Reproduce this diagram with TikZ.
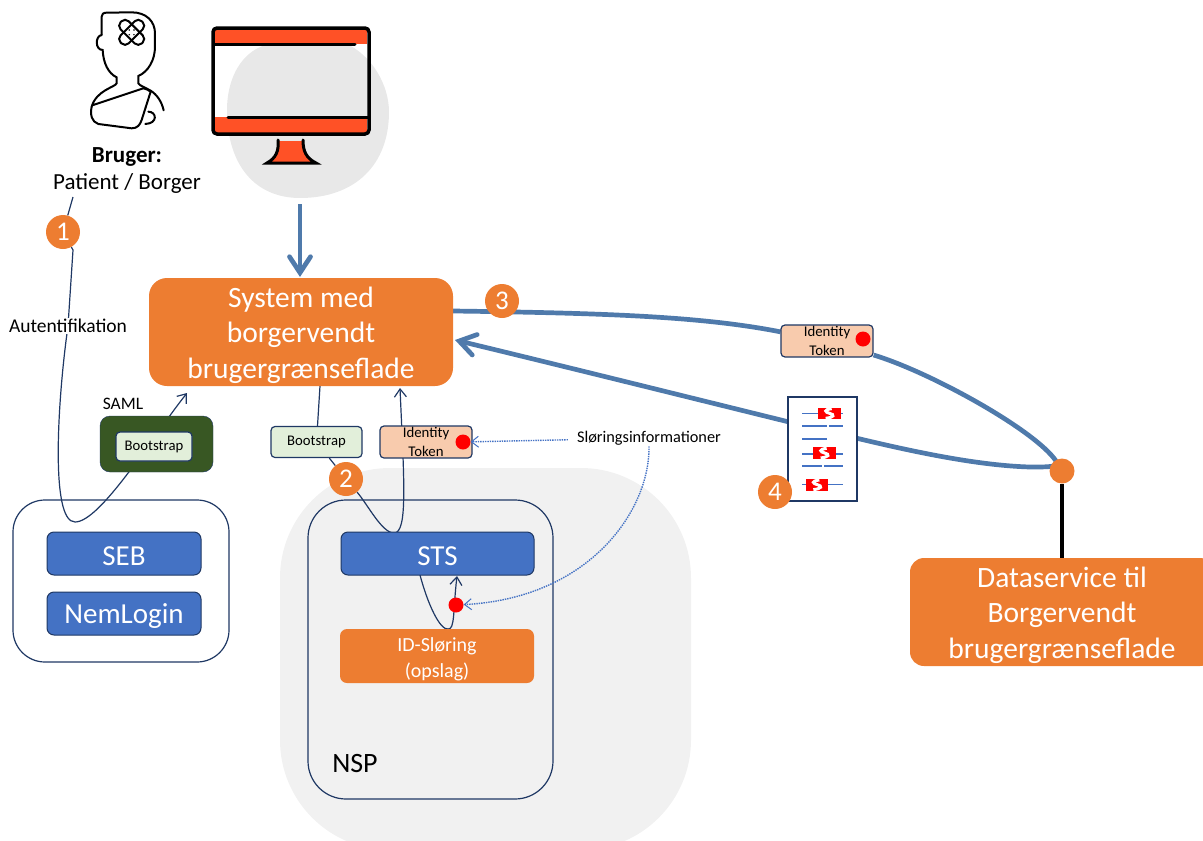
\documentclass[tikz,border=0pt]{standalone}
\usepackage{fontspec}
\setmainfont{Carlito}
\usetikzlibrary{arrows.meta, positioning, backgrounds}
\definecolor{navy}{HTML}{1F3864}
\definecolor{steel}{HTML}{4F7AAB}
\definecolor{sysorange}{HTML}{ED7D31}
\definecolor{sysblue}{HTML}{4472C4}
\definecolor{samlgreen}{HTML}{385723}
\definecolor{paleGreen}{HTML}{E2EFDA}
\definecolor{tokenfill}{HTML}{F8CBAD}
\definecolor{iconred}{HTML}{FF5126}
\tikzstyle{system} = [rectangle, rounded corners=18pt, minimum width=304pt, minimum height=108pt, inner sep=0pt, align=center, fill=sysorange, text=white, font=\fontsize{29.5}{35.5}\selectfont]
\tikzstyle{service} = [rectangle, rounded corners=7pt, minimum width=154pt, minimum height=43pt, inner sep=0pt, align=center, draw=navy, line width=1pt, fill=sysblue, text=white, font=\fontsize{29}{30}\selectfont]
\tikzstyle{lookup} = [rectangle, rounded corners=7pt, minimum width=194pt, minimum height=54pt, inner sep=0pt, align=center, fill=sysorange, text=white, font=\fontsize{20}{26}\selectfont]
\tikzstyle{group} = [rectangle, draw=navy, line width=1.2pt, inner sep=0pt]
\tikzstyle{bootstrap} = [rectangle, rounded corners=4pt, inner sep=0pt, draw=navy, line width=1.2pt, fill=paleGreen, font=\fontsize{14.7}{16}\selectfont]
\tikzstyle{token} = [rectangle, rounded corners=4pt, minimum width=92pt, minimum height=32pt, inner sep=0pt, align=center, draw=navy, line width=1.2pt, fill=tokenfill, font=\fontsize{14.8}{18.5}\selectfont]
\tikzstyle{badge} = [circle, minimum size=34pt, inner sep=0pt, fill=sysorange, text=white, font=\fontsize{27}{27}\selectfont]
\tikzstyle{dot} = [circle, minimum size=15pt, inner sep=0pt, fill=red]
\tikzstyle{label} = [inner sep=1pt, align=center]
\tikzstyle{arrow} = [line width=1.2pt, draw=navy, -{Straight Barb[length=8pt,width=12pt]}]
\tikzstyle{flow} = [line width=4.7pt, draw=steel]
\tikzstyle{flowtip} = [-{Straight Barb[length=16pt,width=21pt,line cap=round]}]
\tikzstyle{hint} = [line width=1.4pt, draw=sysblue, densely dotted, -{Straight Barb[length=7pt,width=11pt,line width=1pt]}]
\tikzstyle{docline} = [line width=1.6pt, draw=sysblue]
\newcommand{\dropline}{\rule{0pt}{27pt}}
\newcommand{\dropservice}{\rule{0pt}{24pt}}

\begin{document}
\begin{tikzpicture}[x=1pt, y=-1pt]
\useasboundingbox (0,0) rectangle (1203,841);

% monitor
\fill[iconred] (215,30) rectangle (367,44);
\fill[iconred] (215,117) rectangle (367,133);
\fill[iconred] (279,141) -- (302,141) .. controls (303,152) and (306,158) .. (314,162) -- (268,162) .. controls (275,158) and (278,152) .. (279,141) -- cycle;
\draw[black, line width=3.5pt, rounded corners=4pt] (213,28) rectangle (369,134);
\draw[black, line width=3pt, line cap=round] (215,44) -- (355,44);
\draw[black, line width=3pt, line cap=round] (228,117) -- (368,117);
\draw[black, line width=3pt, line cap=round] (278,140) .. controls (279,151) and (276,158) .. (267,163) -- (316,163) .. controls (306,158) and (303,151) .. (303,140);

% patient
\begin{scope}[shift={(60,0)}, x=0.3333pt, y=-0.3333pt, black, line width=2pt, line cap=round]
\draw (125,105) -- (125,50) .. controls (125,42) and (130,38) .. (140,38) -- (215,37) .. controls (260,37) and (285,65) .. (285,100) -- (285,140) .. controls (285,180) and (265,215) .. (235,228) -- (235,250) .. controls (240,258) and (255,262) .. (272,272) .. controls (292,285) and (305,305) .. (311,331);
\draw (125,105) .. controls (105,108) and (105,150) .. (128,150) .. controls (130,190) and (145,220) .. (170,232) -- (170,250) .. controls (165,262) and (110,270) .. (95,320) .. controls (90,345) and (95,365) .. (115,372) -- (215,385) .. controls (232,385) and (240,375) .. (245,360) -- (272,275) .. controls (265,270) and (258,266) .. (250,265) -- (97,316);
\draw (265,335) .. controls (290,335) and (295,370) .. (256,372);
\draw[rounded corners=5pt, rotate around={45:(215,97)}] (170,80) rectangle (260,114);
\draw[rounded corners=5pt, rotate around={-45:(215,97)}] (170,80) rectangle (260,114);
\fill (208,90) circle (2.5) (222,90) circle (2.5) (208,104) circle (2.5) (222,104) circle (2.5);
\end{scope}

\node (user) [label, font=\fontsize{23}{27}\selectfont] at (127,171) {\textbf{Bruger:}\\Patient / Borger};
\node (system) [system] at (301,332) {\dropline System med\\borgervendt\\brugergrænseflade};
\node (auth) [label, fill=white, font=\fontsize{19.5}{22}\selectfont] at (68,326) {Autentifikation};

\node (loginbox) [group, rounded corners=32pt, minimum width=216pt, minimum height=162pt] at (121,581) {};
\node (seb) [service] at (124,553.5) {\dropservice SEB};
\node (nemlogin) [service, below=16pt of seb] {\dropservice NemLogin};
\node (nspbox) [group, rounded corners=38pt, minimum width=245pt, minimum height=299pt] at (430.5,649.5) {};
\node (sts) [service, minimum width=193pt] at (437.5,553.5) {\dropservice STS};
\node (idlookup) [lookup] at (437,656) {\rule{0pt}{20pt}ID-Sløring\\(opslag)};
\node (nsp) [label, font=\fontsize{28}{30}\selectfont] at (355,764) {NSP};

\node (samlbox) [rectangle, rounded corners=10pt, minimum width=113pt, minimum height=56pt, inner sep=0pt, draw=navy, fill=samlgreen] at (156.5,444) {};
\node (samlboot) [bootstrap, minimum width=76pt, minimum height=29pt] at (154,446.5) {Bootstrap};
\node (saml) [label, font=\fontsize{17.5}{20}\selectfont] at (123,404) {SAML};
\node (boot) [bootstrap, minimum width=91pt, minimum height=31pt] at (316.5,442) {Bootstrap};
\node (idtoken) [token] at (426,442) {Identity\\Token};
\node (iddot) [dot] at (463,442) {};
\node (sloring) [label, inner xsep=9pt, font=\fontsize{16.3}{19}\selectfont] at (649,438) {Sløringsinformationer};
\node (lookupdot) [dot] at (456,605) {};

\node (dstoken) [token] at (827,341) {Identity\\Token};
\node (dsdot) [dot] at (863,339) {};
\node (doc) [rectangle, minimum width=69pt, minimum height=104pt, inner sep=0pt, draw=navy, line width=1.2pt, fill=white] at (822.5,449) {};

% sloring list
\begin{scope}[shift={(740,310)}, x=0.3333pt, y=-0.3333pt]
\draw[docline] (187,311) -- (308,311);
\draw[docline] (187,348) -- (260,348) (267,348) -- (308,348);
\draw[docline] (187,387) -- (260,387);
\draw[docline] (187,432) -- (308,432);
\draw[docline] (187,468) -- (245,468) (252,468) -- (308,468);
\draw[docline] (187,523) -- (308,523);
\foreach \sx/\sy in {235/293, 220/412, 198/507} {
  \fill[red] (\sx,\sy) rectangle ++(67,35);
  \draw[white, line width=3pt] (\sx+40,\sy+3) .. controls (\sx+15,\sy+6) and (\sx+20,\sy+14) .. (\sx+34,\sy+17) .. controls (\sx+50,\sy+21) and (\sx+48,\sy+29) .. (\sx+22,\sy+32);
}
\end{scope}

\node (dsjoin) [circle, minimum size=25pt, inner sep=0pt, fill=sysorange] at (1062,471) {};
\node (dataservice) [system, rounded corners=14pt] at (1062,612) {\dropline Dataservice til\\Borgervendt\\brugergrænseflade};

\node (b1) [badge] at (63,232) {1};
\node (b2) [badge] at (346,479) {2};
\node (b3) [badge] at (502,301) {3};
\node (b4) [badge] at (775,492) {4};

\coordinate (userout) at (73,197);
\coordinate (monfoot) at (300,204);
\coordinate (sysin) at (300,277);
\coordinate (samlout) at (187,393);
\coordinate (sysout) at (320,386);
\coordinate (tokenout) at (400,388);
\coordinate (stsapex) at (394,533);
\coordinate (loginapex) at (75,522);
\coordinate (lookupapex) at (448,629);
\coordinate (stsleft) at (420,575);
\coordinate (stsin) at (457,576);
\coordinate (flowstart) at (453,311);
\coordinate (flowend) at (455,340);
\coordinate (flowturn) at (1056,461);
\coordinate (flowdoc) at (822,430);

\begin{pgfonlayer}{background}
\begin{scope}
\clip (0,0) rectangle (1203,841);
\fill[black!5.5] (280,468) [rounded corners=110pt] rectangle (691,850);
\end{scope}
\fill[black!9] (227,110) .. controls (227,75) and (245,43) .. (280,43) -- (345,43) .. controls (372,55) and (389,85) .. (389,112) .. controls (389,165) and (355,198) .. (300,198) .. controls (255,198) and (227,165) .. (227,110) -- cycle;

\draw[line width=1.2pt, draw=navy] (userout) -- (b1) -- (73,250) -- (auth);
\draw[arrow] (auth) .. controls (58,400) and (50,522) .. (loginapex) .. controls (100,522) and (150,440) .. (samlout);
\draw[line width=1.2pt, draw=navy] (sysout) -- (boot);
\draw[line width=1.2pt, draw=navy] (boot) -- (b2);
\draw[line width=1.2pt, draw=navy] (b2) .. controls (368,505) and (382,533) .. (stsapex);
\draw[arrow] (stsapex) .. controls (408,533) and (404,480) .. (tokenout);
\draw[arrow] (stsleft) .. controls (428,605) and (440,630) .. (lookupapex) .. controls (455,630) and (453,610) .. (stsin);

\draw[flow] (flowstart) .. controls (600,313) and (700,316) .. (dstoken) .. controls (930,372) and (1035,430) .. (flowturn);
\draw[flow, flowtip] (flowturn) .. controls (1060,467) and (1050,467) .. (1030,467) .. controls (960,465) and (870,441) .. (flowdoc) .. controls (780,420) and (600,375) .. (flowend);
\draw[flow, flowtip] (monfoot) -- (sysin);
\draw[line width=4pt, black] (dsjoin) -- (dataservice);
\end{pgfonlayer}

\draw[hint] (sloring) -- (iddot);
\draw[hint] (sloring.south) .. controls (650,510) and (590,598) .. (lookupdot);
\end{tikzpicture}
\end{document}
